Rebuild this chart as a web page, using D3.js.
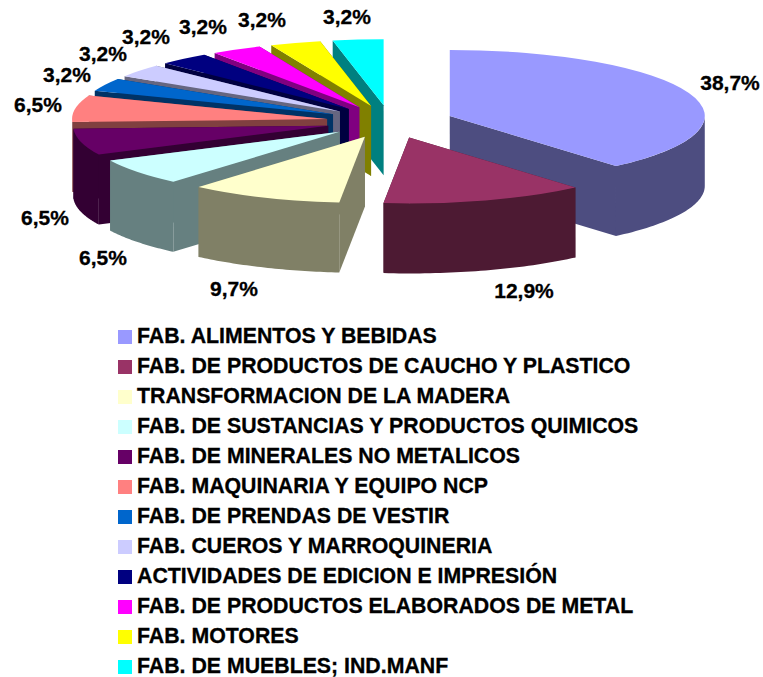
<!DOCTYPE html>
<html><head><meta charset="utf-8">
<script src="https://cdn.jsdelivr.net/npm/d3@7/dist/d3.min.js"></script>
<style>html,body{margin:0;padding:0;background:#fff}svg{display:block}text{font-family:"Liberation Sans",Arial,sans-serif;font-weight:bold;fill:#000;stroke:#000;stroke-width:.3px}</style>
</head><body>
<script>
const categories = ["FAB. ALIMENTOS Y BEBIDAS","FAB. DE PRODUCTOS DE CAUCHO Y PLASTICO","TRANSFORMACION DE LA MADERA","FAB. DE SUSTANCIAS Y PRODUCTOS QUIMICOS","FAB. DE MINERALES NO METALICOS","FAB. MAQUINARIA Y EQUIPO NCP","FAB. DE PRENDAS DE VESTIR","FAB. CUEROS Y MARROQUINERIA","ACTIVIDADES DE EDICION E IMPRESIÓN","FAB. DE PRODUCTOS ELABORADOS DE METAL","FAB. MOTORES","FAB. DE MUEBLES; IND.MANF"];
const values = [38.7,12.9,9.7,6.5,6.5,6.5,3.2,3.2,3.2,3.2,3.2,3.2];
const valueLabels = ["38,7%","12,9%","9,7%","6,5%","6,5%","6,5%","3,2%","3,2%","3,2%","3,2%","3,2%","3,2%"];
const colors = ["#9999FF","#993366","#FFFFCC","#CCFFFF","#660066","#FF8080","#0066CC","#CCCCFF","#000080","#FF00FF","#FFFF00","#00FFFF"];
const labelAnchors = [[730,90],[524,298],[234,296],[103,265],[45,225],[38,112],[67,82],[103,61],[146,44],[203,34],[262,27],[347,24]];

const W=763,H=677,cx=390,cy=121.7,rx=255,ry=66,depth=70,explode=0.25;
const svg=d3.select("body").append("svg").attr("width",W).attr("height",H);
const pie=d3.pie().sort(null).value(d=>d);
const arcs=pie(values).map((a,i)=>{
  const mid=(a.startAngle+a.endAngle)/2;
  return {...a,i,mid,ox:cx+explode*rx*Math.sin(mid),oy:cy-explode*ry*Math.cos(mid)};
});
const px=(a,t)=>a.ox+rx*Math.sin(t), py=(a,t)=>a.oy-ry*Math.cos(t);
const shade=c=>{const k=d3.rgb(c);return d3.rgb(k.r*.5,k.g*.5,k.b*.5).formatHex();};
const arcGen=d3.arc().innerRadius(0).outerRadius(rx);
const line=d3.line();
const order=[11,10,9,8,7,6,5,4,3,2,0,1];
const g=svg.append("g");
order.forEach(i=>{
  const a=arcs[i],dark=shade(colors[i]),s=g.append("g");
  const wall=t=>s.append("path").attr("fill",dark).attr("d",line([[a.ox,a.oy],[px(a,t),py(a,t)],[px(a,t),py(a,t)+depth],[a.ox,a.oy+depth]])+"Z");
  if(a.mid>Math.PI){wall(a.endAngle);wall(a.startAngle);}else{wall(a.startAngle);wall(a.endAngle);}
  const t0=Math.max(a.startAngle,Math.PI/2),t1=Math.min(a.endAngle,3*Math.PI/2);
  if(t1>t0){
    const ts=d3.range(0,41).map(k=>t0+(t1-t0)*k/40);
    const up=ts.map(t=>[px(a,t),py(a,t)]);
    const down=ts.slice().reverse().map(t=>[px(a,t),py(a,t)+depth]);
    s.append("path").attr("fill",dark).attr("d",line(up.concat(down))+"Z");
  }
  s.append("path").attr("fill",colors[i])
    .attr("transform",`translate(${a.ox},${a.oy}) scale(1,${ry/rx})`)
    .attr("d",arcGen({startAngle:a.startAngle,endAngle:a.endAngle}));
});
svg.append("g").selectAll("text").data(valueLabels).join("text")
  .attr("x",(d,i)=>labelAnchors[i][0]).attr("y",(d,i)=>labelAnchors[i][1])
  .attr("text-anchor","middle").attr("font-size",21).text(d=>d);
const ly=d3.scalePoint().domain(categories).range([336,666]);
const leg=svg.append("g").selectAll("g").data(categories).join("g")
  .attr("transform",d=>`translate(0,${ly(d)})`);
leg.append("rect").attr("x",118).attr("y",-6).attr("width",14).attr("height",14).attr("fill",(d,i)=>colors[i]);
leg.append("text").attr("x",137).attr("y",7).attr("font-size",21.3).text(d=>d);
</script>
</body></html>
